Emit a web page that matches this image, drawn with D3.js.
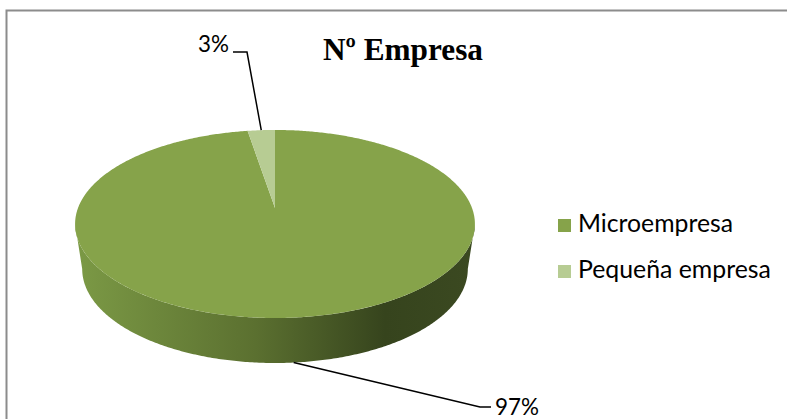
<!DOCTYPE html>
<html><head><meta charset="utf-8">
<script src="https://cdn.jsdelivr.net/npm/d3@7"></script>
<style>html,body{margin:0;padding:0;background:#fff;overflow:hidden}</style>
</head><body>
<svg id="chart" width="787" height="419"></svg>
<script>
// ---- data ----
const categories = ["Microempresa", "Pequeña empresa"];
const values = [97.4, 2.6];
const title = "Nº Empresa";

// ---- layout ----
const W = 787, H = 419;
const svg = d3.select("#chart");
const cx = 275, cyTop = 208, cyBot = 253;
const rxTop = 197, rxBot = 190, ry = 91.3, persp = 0.17;

const color = d3.scaleOrdinal().domain(categories).range(["#86a34a", "#b7cc93"]);
const pct = d3.format(".0%");
const total = d3.sum(values);
const pie = d3.pie().sort(null).value(d => d.value);
const arcs = pie(categories.map((c, i) => ({ cat: c, value: values[i] })));

function proj(theta, level) {
  const u = Math.sin(theta), v = -Math.cos(theta);
  const w = 1 - persp * v;
  const rx = level ? rxBot : rxTop, cy = level ? cyBot : cyTop;
  return [cx + rx * u / w, cy + ry * v / w];
}
function sample(a0, a1, level) {
  const n = Math.max(2, Math.ceil(Math.abs(a1 - a0) / 0.01));
  return d3.range(n + 1).map(i => proj(a0 + (a1 - a0) * i / n, level));
}
const line = d3.line();

// border
svg.append("rect").attr("x", 6.5).attr("y", 10.5).attr("width", 800).attr("height", 420)
  .attr("fill", "#fff").attr("stroke", "#8c8c8c").attr("stroke-width", 2);

// side gradient
const defs = svg.append("defs");
const g = defs.append("linearGradient").attr("id", "side").attr("gradientUnits", "userSpaceOnUse")
  .attr("x1", cx - rxTop).attr("x2", cx + rxTop).attr("y1", 0).attr("y2", 0);
[[0, "#7b9945"], [0.45, "#5b7030"], [0.78, "#36441d"], [1, "#3b4921"]].forEach(s =>
  g.append("stop").attr("offset", s[0]).attr("stop-color", s[1]));

// side (near half, visible part of the big slice)
const alpha = Math.acos(persp);
const thR = Math.PI - alpha, thL = Math.PI + alpha;
const sidePts = sample(thR, thL, 0).concat(sample(thL, thR, 1));
svg.append("path").attr("d", line(sidePts) + "Z").attr("fill", "url(#side)");

// top slices
svg.selectAll("path.top").data(arcs).join("path").attr("class", "top")
  .attr("d", d => line([[cx, cyTop]].concat(sample(d.startAngle, d.endAngle, 0))) + "Z")
  .attr("fill", d => color(d.data.cat));

// title
const t = svg.append("text").attr("x", 323).attr("y", 60)
  .attr("font-family", "Liberation Serif, Times New Roman, serif").attr("font-weight", "bold")
  .attr("font-size", 30).attr("fill", "#000").text(title);

function fit(sel, w) {
  const l = sel.node().getComputedTextLength();
  sel.attr("font-size", parseFloat(sel.attr("font-size")) * w / l);
}
fit(t, 160);

// data labels with leader lines
const labelFont = "Lato, Calibri, sans-serif";
const small = arcs[1], big = arcs[0];
const sMid = (small.startAngle + small.endAngle) / 2;
const sp = proj(sMid, 0);
svg.append("path").attr("d", line([[233, 52], [247, 52], sp])).attr("fill", "none")
  .attr("stroke", "#000").attr("stroke-width", 1.5);
const l1 = svg.append("text").attr("x", 229).attr("y", 52).attr("text-anchor", "end")
  .attr("font-family", labelFont).attr("font-size", 22).attr("fill", "#000")
  .text(pct(small.data.value / total));
fit(l1, 31);

const bMid = (big.startAngle + big.endAngle) / 2;
const bp = proj(bMid, 1);
svg.append("path").attr("d", line([bp, [480, 407], [491, 407]])).attr("fill", "none")
  .attr("stroke", "#000").attr("stroke-width", 1.5);
const l2 = svg.append("text").attr("x", 495).attr("y", 415)
  .attr("font-family", labelFont).attr("font-size", 22).attr("fill", "#000")
  .text(pct(big.data.value / total));
fit(l2, 44);

// legend
const leg = svg.selectAll("g.leg").data(categories).join("g").attr("class", "leg")
  .attr("transform", (d, i) => `translate(558,${219 + i * 46})`);
leg.append("rect").attr("width", 13).attr("height", 13).attr("fill", d => color(d));
const lt = leg.append("text").attr("x", 20).attr("y", 13)
  .attr("font-family", labelFont).attr("font-size", 22).attr("fill", "#000").text(d => d);
lt.each(function(d, i) { fit(d3.select(this), i === 0 ? 155 : 193); });
</script>
</body></html>
